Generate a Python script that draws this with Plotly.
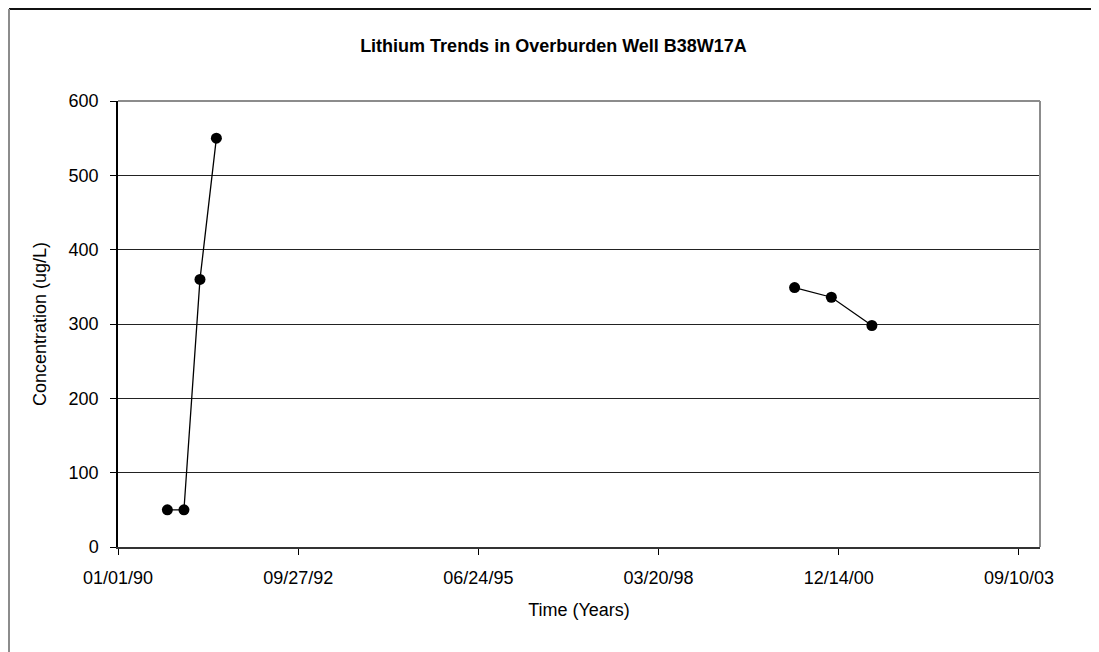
import plotly.graph_objects as go

# Data
dates_early = ["1990-10-02", "1991-01-02", "1991-04-01", "1991-07-01"]
values_early = [50, 50, 360, 550]
dates_late = ["2000-04-13", "2000-11-03", "2001-06-16"]
values_late = [349, 336, 298]

x_tick_dates = ["1990-01-01", "1992-09-27", "1995-06-24", "1998-03-20", "2000-12-14", "2003-09-10"]
x_tick_labels = ["01/01/90", "09/27/92", "06/24/95", "03/20/98", "12/14/00", "09/10/03"]
y_ticks = [0, 100, 200, 300, 400, 500, 600]

title_text = "Lithium Trends in Overburden Well B38W17A"
x_title = "Time (Years)"
y_title = "Concentration (ug/L)"

FONT = "Liberation Sans, Arial, sans-serif"
W, H = 1091, 644
ML, MR, MT, MB = 110, 59, 93, 105

fig = go.Figure()
for xs, ys in [(dates_early, values_early), (dates_late, values_late)]:
    fig.add_trace(go.Scatter(
        x=xs, y=ys, mode="lines+markers",
        line=dict(color="black", width=1.3),
        marker=dict(color="black", size=11, symbol="circle"),
        showlegend=False, hoverinfo="x+y",
    ))

fig.update_layout(
    width=W, height=H,
    autosize=False,
    margin=dict(l=ML, r=MR, t=MT, b=MB),
    paper_bgcolor="white", plot_bgcolor="white",
    font=dict(family=FONT, color="black", size=18),
    title=dict(text="<b>" + title_text + "</b>", x=0.5, xanchor="center",
               y=1 - 38 / H, yanchor="middle",
               font=dict(family=FONT, size=18, color="black")),
    showlegend=False,
)

fig.update_xaxes(
    type="date",
    range=["1990-01-01", "2004-01-05"],
    tickvals=x_tick_dates, ticktext=x_tick_labels,
    ticks="outside", ticklen=6, tickwidth=1, tickcolor="black",
    ticklabelstandoff=8,
    showline=True, linecolor="#333333", linewidth=1.5,
    showgrid=False, zeroline=False,
    tickfont=dict(family=FONT, size=18, color="black"),
    title=dict(text=x_title, font=dict(family=FONT, size=18, color="black"), standoff=16),
)
fig.update_yaxes(
    range=[0, 600],
    tickvals=y_ticks,
    ticks="outside", ticklen=6, tickwidth=1, tickcolor="black",
    ticklabelstandoff=8,
    showline=True, linecolor="black", linewidth=1.5,
    showgrid=True, gridcolor="#222222", gridwidth=1,
    zeroline=False,
    tickfont=dict(family=FONT, size=18, color="black"),
    title=dict(text=y_title, font=dict(family=FONT, size=18, color="black"), standoff=17),
)

# plot-area border (top and right, grey)
fig.add_shape(type="line", xref="paper", yref="paper", x0=0, x1=1, y0=1, y1=1,
              line=dict(color="#8c8c8c", width=2), layer="above")
fig.add_shape(type="line", xref="paper", yref="paper", x0=1, x1=1, y0=0, y1=1,
              line=dict(color="#8c8c8c", width=2), layer="above")

# outer chart border (top black, left grey), extending beyond the page
pw = W - ML - MR
ph = H - MT - MB
ox, oy = 1, 1  # figure-pixel coordinates of outer border corner
fig.add_shape(type="line", xref="paper", yref="paper",
              x0=(ox - ML) / pw, x1=(W + 40 - ML) / pw,
              y0=(H - MB - oy) / ph, y1=(H - MB - oy) / ph,
              line=dict(color="#111111", width=2), layer="above")
fig.add_shape(type="line", xref="paper", yref="paper",
              x0=(ox - ML) / pw, x1=(ox - ML) / pw,
              y0=(H - MB - oy) / ph, y1=(H - MB - H - 40) / ph,
              line=dict(color="#8c8c8c", width=2), layer="above")

fig.write_html("out.html")
